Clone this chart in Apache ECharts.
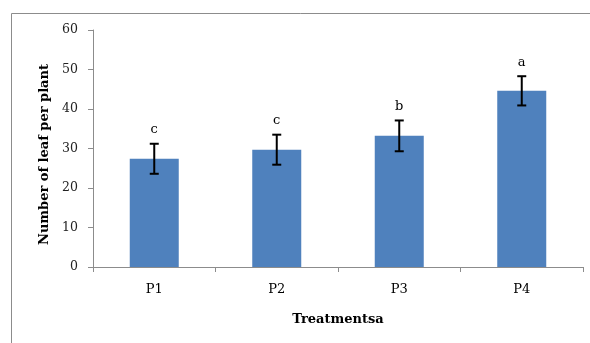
<!DOCTYPE html>
<html>
<head>
<meta charset="utf-8">
<script src="https://cdn.jsdelivr.net/npm/echarts@6/dist/echarts.min.js"></script>
<style>
  html, body { margin: 0; padding: 0; background: #fff; }
  #chart { width: 590px; height: 343px; }
</style>
</head>
<body>
<div id="chart"></div>
<script>
// Treatments and mean number of leaves per plant with standard error
const categories = ['P1', 'P2', 'P3', 'P4'];
const means = [27.4, 29.7, 33.2, 44.6];
const errors = [3.8, 3.8, 3.9, 3.7];
const letters = ['c', 'c', 'b', 'a'];
const yTicks = [0, 10, 20, 30, 40, 50, 60];

const serif = '"DejaVu Serif", "Liberation Serif", serif';
const chart = echarts.init(document.getElementById('chart'));

chart.setOption({
  animation: false,
  backgroundColor: '#fff',
  graphic: [{
    type: 'polyline',
    shape: { points: [[11.5, 343], [11.5, 13.5], [590, 13.5]] },
    style: { stroke: '#8c8c8c', lineWidth: 1, fill: null },
    silent: true
  }],
  grid: { left: 93, right: 7, top: 30, bottom: 76 },
  xAxis: {
    type: 'category',
    data: categories,
    name: 'Treatmentsa',
    nameLocation: 'middle',
    nameGap: 46,
    nameTextStyle: { fontFamily: serif, fontWeight: 'bold', fontSize: 13, color: '#000' },
    axisLine: { lineStyle: { color: '#8c8c8c', width: 1 } },
    axisTick: { show: true, length: 5, lineStyle: { color: '#8c8c8c' } },
    axisLabel: { fontFamily: serif, fontSize: 13, color: '#000', margin: 16 }
  },
  yAxis: {
    type: 'value',
    min: yTicks[0],
    max: yTicks[yTicks.length - 1],
    interval: 10,
    name: 'Number of leaf per plant',
    nameLocation: 'middle',
    nameGap: 41,
    nameTextStyle: {
      fontFamily: serif, fontWeight: 'bold', fontSize: 13, color: '#000',
      padding: [0, 12, 0, 0]
    },
    axisLine: { show: true, lineStyle: { color: '#8c8c8c', width: 1 } },
    axisTick: { show: true, length: 5, lineStyle: { color: '#8c8c8c' } },
    splitLine: { show: false },
    axisLabel: { fontFamily: serif, fontSize: 12.5, color: '#222', margin: 15 }
  },
  series: [
    {
      type: 'bar',
      data: means,
      barWidth: '40%',
      itemStyle: { color: '#4f81bd' },
      z: 2
    },
    {
      type: 'custom',
      data: categories.map((c, i) => [i, means[i], errors[i]]),
      z: 5,
      renderItem: function (params, api) {
        const i = api.value(0);
        const m = api.value(1);
        const e = api.value(2);
        const top = api.coord([i, m + e]);
        const bot = api.coord([i, m - e]);
        const cap = 4.5;
        const st = { stroke: '#000', lineWidth: 2 };
        return {
          type: 'group',
          children: [
            { type: 'line', shape: { x1: top[0], y1: top[1], x2: bot[0], y2: bot[1] }, style: st },
            { type: 'line', shape: { x1: top[0] - cap, y1: top[1], x2: top[0] + cap, y2: top[1] }, style: st },
            { type: 'line', shape: { x1: bot[0] - cap, y1: bot[1], x2: bot[0] + cap, y2: bot[1] }, style: st },
            {
              type: 'text',
              style: {
                x: top[0], y: top[1] - 14, text: letters[i],
                align: 'center', verticalAlign: 'middle',
                font: '13px ' + serif, fill: '#000'
              }
            }
          ]
        };
      }
    }
  ]
});
</script>
</body>
</html>
